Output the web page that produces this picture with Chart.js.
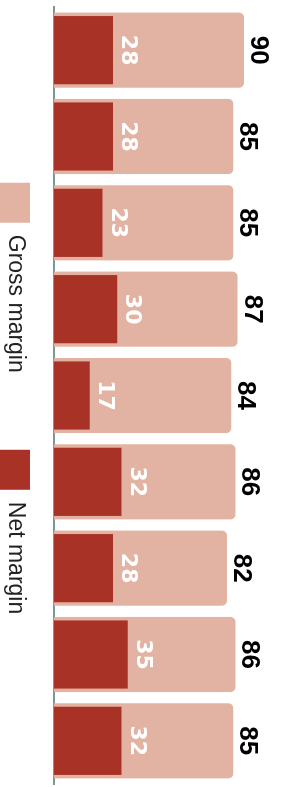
<!DOCTYPE html>
<html>
<head>
<meta charset="utf-8">
<script src="https://cdn.jsdelivr.net/npm/chart.js@4"></script>
<style>
    html, body { margin: 0; padding: 0; background: #fff; overflow: hidden; }
    /* the chart is drawn landscape and turned a quarter clockwise */
    #wrap {
        position: absolute; left: 0; top: 0;
        width: 787px; height: 285px;
        transform: translateX(285px) rotate(90deg);
        transform-origin: 0 0;
    }
</style>
</head>
<body>
<div id="wrap"><canvas id="marginChart" width="787" height="285"></canvas></div>
<script>
const categories = ['Item 1', 'Item 2', 'Item 3', 'Item 4', 'Item 5', 'Item 6', 'Item 7', 'Item 8', 'Item 9'];
const grossMargin = [90, 85, 85, 87, 84, 86, 82, 86, 85];
const netMargin = [28, 28, 23, 30, 17, 32, 28, 35, 32];

const grossColor = '#e2b3a2';
const netColor = '#a93226';

// value labels above each bar
const barLabels = {
    id: 'barLabels',
    afterDatasetsDraw(chart) {
        const ctx = chart.ctx;
        ctx.save();
        ctx.textAlign = 'center';
        ctx.textBaseline = 'alphabetic';
        chart.data.datasets.forEach((ds, i) => {
            const meta = chart.getDatasetMeta(i);
            const isGross = ds.label === 'Gross margin';
            ctx.font = isGross ? 'bold 26px "Liberation Sans", Arial, sans-serif' : 'bold 22px "DejaVu Sans", Verdana, sans-serif';
            ctx.fillStyle = isGross ? '#000' : '#fff';
            meta.data.forEach((bar, j) => {
                ctx.fillText(ds.data[j], bar.x, bar.y - (isGross ? 7 : 9));
            });
        });
        ctx.restore();
    }
};

// simple legend along the bottom edge
const bottomLegend = {
    id: 'bottomLegend',
    afterDraw(chart) {
        const ctx = chart.ctx;
        ctx.save();
        ctx.font = '23px "Liberation Sans", Arial, sans-serif';
        ctx.textBaseline = 'middle';
        const boxW = 40, boxH = 30, gap = 12, spacing = 77;
        const items = chart.data.datasets.map(ds => ({
            text: ds.label, color: ds.backgroundColor, w: ctx.measureText(ds.label).width
        }));
        const total = items.reduce((s, it) => s + boxW + gap + it.w, 0) + spacing * (items.length - 1);
        let x = (chart.width - total) / 2 + 5;
        const y = chart.height - 15;
        items.forEach(it => {
            ctx.fillStyle = it.color;
            ctx.fillRect(x, y - boxH / 2, boxW, boxH);
            ctx.fillStyle = '#222';
            ctx.fillText(it.text, x + boxW + gap, y);
            x += boxW + gap + it.w + spacing;
        });
        ctx.restore();
    }
};

new Chart(document.getElementById('marginChart'), {
    type: 'bar',
    data: {
        labels: categories,
        datasets: [{
            label: 'Gross margin',
            data: grossMargin,
            backgroundColor: grossColor,
            borderRadius: 5,
            barPercentage: 0.87,
            categoryPercentage: 1,
            grouped: false,
            order: 1
        }, {
            label: 'Net margin',
            data: netMargin,
            backgroundColor: netColor,
            barPercentage: 0.79,
            categoryPercentage: 1,
            grouped: false,
            order: 0
        }]
    },
    options: {
        responsive: false,
        animation: false,
        devicePixelRatio: 1,
        layout: { padding: { left: 7, right: 3, top: 20, bottom: 46 } },
        plugins: {
            legend: { display: false },
            tooltip: { enabled: false }
        },
        scales: {
            x: {
                grid: { display: false },
                ticks: { display: false },
                border: { display: true, color: '#7d9797', width: 2 }
            },
            y: {
                display: false,
                min: 0,
                max: 100
            }
        }
    },
    plugins: [barLabels, bottomLegend]
});
</script>
</body>
</html>
